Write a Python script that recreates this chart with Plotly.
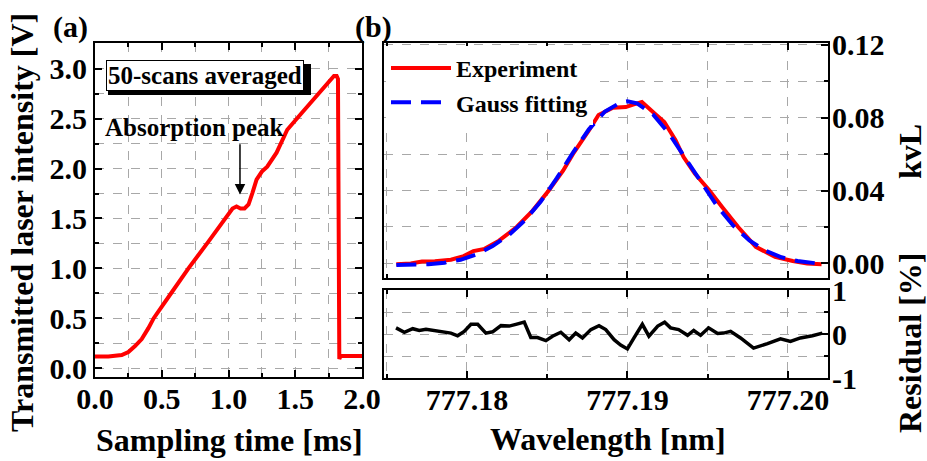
import plotly.graph_objects as go

FONT = "Liberation Serif"

# ---------------- Panel (a): transmitted intensity ----------------
time_ms = [0.00, 0.10, 0.20, 0.25, 0.30, 0.35, 0.40, 0.44, 0.57, 0.70, 0.84, 0.90,
           0.97, 1.03, 1.06, 1.09, 1.12, 1.15, 1.18, 1.21, 1.25, 1.29, 1.36, 1.44,
           1.55, 1.65, 1.75, 1.79, 1.81, 1.82, 1.83, 1.84, 1.90, 2.00]
intensity_v = [0.115, 0.115, 0.13, 0.16, 0.22, 0.29, 0.40, 0.50, 0.75, 1.00, 1.25, 1.36,
               1.49, 1.60, 1.62, 1.60, 1.60, 1.64, 1.76, 1.89, 1.97, 2.02, 2.16, 2.39,
               2.56, 2.72, 2.88, 2.93, 2.93, 2.90, 0.09, 0.12, 0.12, 0.12]

# ---------------- Panel (b): kvL spectrum ----------------
exp_wl = [777.1756, 777.1765, 777.1772, 777.1780, 777.1790, 777.1798, 777.1804, 777.1811,
          777.1820, 777.1831, 777.1841, 777.1851, 777.1860, 777.1866, 777.1876, 777.1882,
          777.1891, 777.1899, 777.1904, 777.1909, 777.1918, 777.1923, 777.1930, 777.1935,
          777.1942, 777.1951, 777.1959, 777.1969, 777.1980, 777.1992, 777.2003, 777.2012,
          777.2021]
exp_kvl = [-0.0005, 0.0000, 0.0010, 0.0012, 0.0020, 0.0040, 0.0068, 0.0080,
           0.0125, 0.0200, 0.0290, 0.0400, 0.0510, 0.0600, 0.0730, 0.0815,
           0.0855, 0.0858, 0.0873, 0.0886, 0.0815, 0.0776, 0.0676, 0.0584,
           0.0493, 0.0402, 0.0310, 0.0200, 0.0091, 0.0036, 0.0013, 0.0000,
           -0.0005]

fit_wl = [777.1756, 777.1766, 777.1776, 777.1786, 777.1796, 777.1806, 777.1816, 777.1826,
          777.1836, 777.1846, 777.1856, 777.1866, 777.1876, 777.1886, 777.1896, 777.1900,
          777.1906, 777.1916, 777.1926, 777.1936, 777.1946, 777.1956, 777.1966, 777.1976,
          777.1986, 777.1996, 777.2006, 777.2016, 777.2021]
fit_kvl = [-0.0009, -0.0008, -0.0004, 0.0004, 0.0020, 0.0050, 0.0095, 0.0155,
           0.0236, 0.0340, 0.0468, 0.0607, 0.0736, 0.0834, 0.0885, 0.0890,
           0.0879, 0.0818, 0.0712, 0.0579, 0.0441, 0.0313, 0.0207, 0.0126,
           0.0070, 0.0034, 0.0013, 0.0001, -0.0003]

# ---------------- Residual ----------------
res_wl = [777.17558, 777.17610, 777.17662, 777.17703, 777.17745, 777.17797, 777.17849,
          777.17900, 777.17942, 777.17983, 777.18025, 777.18067, 777.18118, 777.18160,
          777.18212, 777.18263, 777.18305, 777.18357, 777.18398, 777.18440, 777.18492,
          777.18533, 777.18585, 777.18637, 777.18678, 777.18720, 777.18772, 777.18823,
          777.18865, 777.18917, 777.18958, 777.19000, 777.19041, 777.19093, 777.19134,
          777.19189, 777.19232, 777.19269, 777.19319, 777.19375, 777.19413, 777.19456,
          777.19506, 777.19562, 777.19599, 777.19643, 777.19705, 777.19786, 777.19873,
          777.19954, 777.20016, 777.20078, 777.20153, 777.20215]
res_pct = [0.14, 0.04, 0.12, 0.08, 0.11, 0.08, 0.06, 0.02, -0.04, 0.06, 0.22, 0.22,
           0.02, 0.05, 0.19, 0.18, 0.22, 0.27, -0.08, -0.08, -0.15, -0.05, 0.04, -0.13,
           0.02, -0.09, 0.10, 0.19, 0.10, -0.13, -0.25, -0.34, -0.09, 0.22, -0.05,
           0.18, 0.27, 0.14, 0.10, -0.03, 0.08, -0.03, 0.14, 0.01, 0.02, 0.06, -0.09,
           -0.32, -0.22, -0.11, -0.17, -0.09, -0.04, 0.02]

W, H = 927, 461


def px(x):
    return x / W


def py(y):
    return 1 - y / H


tickfont = dict(family=FONT, size=30, color="black", weight="bold")
GRID = "#a8a8a8"


def axis(**kw):
    base = dict(showline=True, linecolor="black", linewidth=2, ticks="inside",
                ticklen=7, tickwidth=2, tickcolor="black", showgrid=True,
                gridcolor=GRID, griddash="dash", gridwidth=1, zeroline=False,
                tickfont=tickfont, automargin=False)
    base.update(kw)
    return base


def minor(dt, grid=True):
    return dict(dtick=dt, ticks="inside", ticklen=4, tickwidth=2, tickcolor="black",
                showgrid=grid, gridcolor=GRID, griddash="dash", gridwidth=1)


fig = go.Figure()

fig.add_trace(go.Scatter(x=time_ms, y=intensity_v, mode="lines",
                         line=dict(color="#ff0000", width=4), showlegend=False,
                         xaxis="x", yaxis="y"))
fig.add_trace(go.Scatter(x=exp_wl, y=exp_kvl, mode="lines", name="Experiment",
                         line=dict(color="#ff0000", width=4), xaxis="x2", yaxis="y2"))
fig.add_trace(go.Scatter(x=fit_wl, y=fit_kvl, mode="lines", name="Gauss fitting",
                         line=dict(color="#0000ff", width=4, dash="20px,10px"),
                         xaxis="x2", yaxis="y2"))
fig.add_trace(go.Scatter(x=res_wl, y=res_pct, mode="lines",
                         line=dict(color="black", width=3.5), showlegend=False,
                         xaxis="x3", yaxis="y3"))

xb = [px(383.5), px(828)]

fig.update_layout(
    width=W, height=H, autosize=False,
    margin=dict(l=0, r=0, t=0, b=0, pad=0, autoexpand=False),
    paper_bgcolor="white", plot_bgcolor="white",
    font=dict(family=FONT, color="black", weight="bold"),
    xaxis=axis(domain=[px(95), px(362)], range=[0, 2], dtick=0.5, tick0=0,
               tickformat=".1f", mirror="ticks", anchor="y", minor=minor(0.25),
               ticklabelstandoff=-6),
    yaxis=axis(domain=[py(377), py(43)], range=[-0.09, 3.26], dtick=0.5, tick0=0,
               tickformat=".1f", mirror="ticks", anchor="x", minor=minor(0.25)),
    xaxis2=axis(domain=xb, range=[777.1748, 777.2025], dtick=0.01, tick0=777.18,
                showticklabels=False, mirror="ticks", anchor="y2", minor=minor(0.005)),
    yaxis2=axis(domain=[py(278), py(43)], range=[-0.008, 0.121], dtick=0.04, tick0=0,
                tickformat=".2f", side="right", mirror=True, anchor="x2",
                minor=minor(0.02), ticklabelstandoff=-4),
    xaxis3=axis(domain=xb, range=[777.1748, 777.2025], dtick=0.01, tick0=777.18,
                tickformat=".2f", mirror="ticks", anchor="y3", minor=minor(0.005),
                ticklabelstandoff=-6),
    yaxis3=axis(domain=[py(378), py(290)], range=[-1, 1], tickmode="array",
                tickvals=[-1, 0, 1], ticktext=["-1", "0", "1"], side="right",
                mirror=True, anchor="x3", ticklabelstandoff=-4,
                minor=dict(tickmode="linear", tick0=0, dtick=0.5, ticks="inside",
                           ticklen=4, tickwidth=2, tickcolor="black", showgrid=True,
                           gridcolor=GRID, griddash="dash", gridwidth=1)),
    legend=dict(x=px(386), y=py(46), xanchor="left", yanchor="top",
                bgcolor="white", borderwidth=0, itemwidth=60,
                font=dict(family=FONT, size=24, color="black", weight="bold"),
                tracegroupgap=0),
    # drop shadow behind the "50-scans averaged" box
    shapes=[dict(type="rect", xref="paper", yref="paper",
                 x0=px(108), x1=px(311), y0=py(95), y1=py(64),
                 fillcolor="black", line=dict(width=0), layer="above")],
)

title_font = dict(family=FONT, size=32, color="black", weight="bold")
ann = []
ann.append(dict(text="Sampling time [ms]", x=px(229), y=py(440), xref="paper", yref="paper",
                showarrow=False, font=title_font, xanchor="center", yanchor="middle"))
ann.append(dict(text="Wavelength [nm]", x=px(608), y=py(439), xref="paper", yref="paper",
                showarrow=False, font=title_font, xanchor="center", yanchor="middle"))
ann.append(dict(text="Transmitted laser intensity [V]", x=px(22), y=py(223), xref="paper",
                yref="paper", showarrow=False, font=title_font, textangle=-90,
                xanchor="center", yanchor="middle"))
ann.append(dict(text="kvL", x=px(910), y=py(152), xref="paper", yref="paper",
                showarrow=False, font=title_font, textangle=-90,
                xanchor="center", yanchor="middle"))
ann.append(dict(text="Residual [%]", x=px(910), y=py(343), xref="paper", yref="paper",
                showarrow=False, font=title_font, textangle=-90,
                xanchor="center", yanchor="middle"))
ann.append(dict(text="(a)", x=px(70), y=py(27), xref="paper", yref="paper",
                showarrow=False, font=dict(family=FONT, size=30, color="black", weight="bold"),
                xanchor="center", yanchor="middle"))
ann.append(dict(text="(b)", x=px(373), y=py(27), xref="paper", yref="paper",
                showarrow=False, font=dict(family=FONT, size=30, color="black", weight="bold"),
                xanchor="center", yanchor="middle"))
box_font = dict(family=FONT, size=25, color="black", weight="bold")
ann.append(dict(text="50-scans averaged", x=px(205), y=py(75), xref="paper", yref="paper",
                xanchor="center", yanchor="middle",
                showarrow=False, font=box_font, bgcolor="white", bordercolor="black",
                borderwidth=1, borderpad=1))
# Absorption peak label and arrow
ann.append(dict(text="Absorption peak", x=0.742, y=2.41, xref="x", yref="y",
                xanchor="center", yanchor="middle", showarrow=False, font=box_font))
ann.append(dict(text="", x=1.086, y=1.74, xref="x", yref="y", ax=1.086, ay=2.26,
                axref="x", ayref="y", showarrow=True, arrowhead=2, arrowsize=1.4,
                arrowwidth=1.5, arrowcolor="black"))
fig.update_layout(annotations=ann)

fig.write_html("out.html")
